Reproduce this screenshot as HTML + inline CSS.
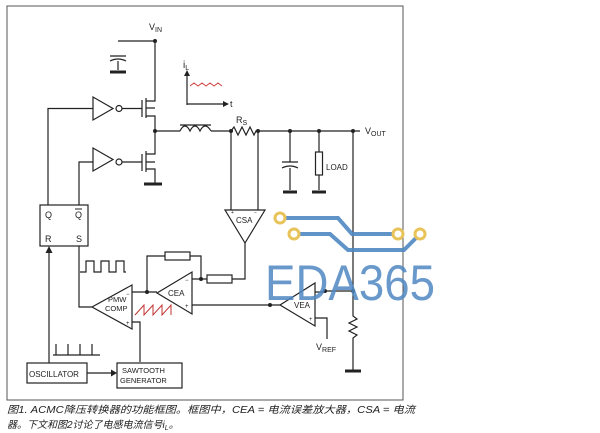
<!DOCTYPE html>
<html><head><meta charset="utf-8"><style>
html,body{margin:0;padding:0;background:#fff;width:600px;height:433px;overflow:hidden}
svg{display:block}
text{font-family:"Liberation Sans",Arial,sans-serif;fill:#222}
</style></head><body>
<svg width="600" height="433" viewBox="0 0 600 433">
<g stroke="#222" stroke-width="1.2" fill="none">
<rect x="7" y="6" width="396" height="394" stroke="#555" stroke-width="1"/>
<path d="M118,41H155V95"/>
<path d="M110,56H126M110,61 Q118,57 126,61M118,61V70"/>
<path d="M110,72H126" stroke-width="3"/>
<path d="M93,97V120L113,108.5Z"/>
<circle cx="119" cy="108.5" r="3"/>
<path d="M122,108.5H142M142,100V117M146,98V118M146,101H155V95M146,108H155M146,116H155V131"/>
<path d="M48,205V108.5H93"/>
<path d="M93,148V171L113,159.5Z"/>
<circle cx="119" cy="162" r="3"/>
<path d="M122,162H142M142,154V171M146,151V172M146,154H155V131M146,162H155M146,169H155V183"/>
<path d="M144,184H162" stroke-width="3"/>
<path d="M79,205V162H93"/>
<path d="M155,131H180M180,131 q5,-10 10,0 q5,-10 10,0 q5,-10 11,0M180,125H211M211,131H233"/>
<path d="M231,131 l3,-4 l4,8 l4,-8 l4,8 l4,-8 l4,8 l2,-4H353M353,131H360"/>
<path d="M290,131V162M282,162H298M282,168 Q290,164 298,168M290,168V190"/>
<path d="M283,192H297" stroke-width="3"/>
<path d="M319,131V152M319,175V190"/>
<rect x="315.5" y="152" width="7" height="23"/>
<path d="M312,192H326" stroke-width="3"/>
<path d="M353,131V316 l4,3 l-8,4 l8,4 l-8,4 l8,4 l-4,3V370"/>
<path d="M345,371H361" stroke-width="3"/>
<path d="M325,291H353"/>
<path d="M225,210H265L245,243Z"/>
<path d="M231,131V210M258,131V210M245,243V279H232M207,279H201"/>
<rect x="207" y="275" width="25" height="8"/>
<path d="M192,272V314L157,293Z"/>
<path d="M147,292V256H165M190,256H201V279H192"/>
<rect x="165" y="252" width="25" height="8"/>
<path d="M192,305H280"/>
<path d="M132,285V329L92,307Z"/>
<path d="M132,292H157M132,322H140V362"/>
<path d="M79,246V307H92"/>
<path d="M315,283V326L280,305Z"/>
<path d="M315,292H325M315,318H327V339"/>
<rect x="40" y="205" width="48" height="41"/>
<path d="M80,272H86V261H94V272H101V261H109V272H116V261H124V272H126"/>
<path d="M53,355H100M56,355V344M68,355V344M80,355V344M92,355V344"/>
<rect x="27" y="363" width="60" height="20"/>
<rect x="117" y="363" width="65" height="25"/>
<path d="M87,373H112M49,363V252"/>
<path d="M187,105V74M187,104H225"/>
</g>
<path d="M117,373l-6,-3.5v7z M49,246l-3.5,7h7z M187,70l-3,6h6z M229,104l-6,-3v6z" fill="#222"/>
<path d="M190,86 l4,-3 l4,3 l4,-3 l4,3 l4,-3 l4,3 l4,-3 l4,3" stroke="#d04040" fill="none"/>
<path d="M135,315 l9,-10 v10 l9,-10 v10 l9,-10 v10 l9,-10 v10" stroke="#c03030" fill="none" stroke-width="1"/>
<g fill="#222">
<circle cx="155" cy="41" r="2"/><circle cx="155" cy="131" r="2"/><circle cx="231" cy="131" r="2"/><circle cx="258" cy="131" r="2"/><circle cx="290" cy="131" r="2"/><circle cx="319" cy="131" r="2"/><circle cx="353" cy="131" r="2"/><circle cx="201" cy="279" r="2"/><circle cx="147" cy="292" r="2"/><circle cx="270" cy="305" r="2"/><circle cx="325" cy="291" r="2"/><circle cx="353" cy="291" r="2"/>
</g>
<g font-size="9">
<text x="149" y="30">V<tspan font-size="7" dy="2">IN</tspan></text>
<text x="183" y="68" font-size="10">i<tspan font-size="7" dy="2">L</tspan></text>
<text x="230" y="107">t</text>
<text x="236" y="123">R<tspan font-size="7" dy="2">S</tspan></text>
<text x="365" y="134">V<tspan font-size="7" dy="2">OUT</tspan></text>
<text x="326" y="170" font-size="8">LOAD</text>
<text x="45" y="218">Q</text><text x="75" y="218">Q</text>
<path d="M75,209h7" stroke="#222"/>
<text x="45" y="242">R</text><text x="76" y="242">S</text>
<text x="236" y="223" font-size="8">CSA</text>
<text x="231" y="214" font-size="5">+</text><text x="254" y="214" font-size="5">−</text>
<text x="168" y="296" font-size="8">CEA</text>
<text x="185" y="282" font-size="6">−</text><text x="185" y="308" font-size="6">+</text>
<text x="108" y="302" font-size="7.5">PMW</text>
<text x="105" y="311" font-size="7.5">COMP</text>
<text x="126" y="296" font-size="6">−</text><text x="126" y="325" font-size="6">+</text>
<text x="294" y="308" font-size="8">VEA</text>
<text x="309" y="321" font-size="6">+</text>
<text x="316" y="350">V<tspan font-size="7" dy="2">REF</tspan></text>
<text x="29" y="377" font-size="8">OSCILLATOR</text>
<text x="122" y="373" font-size="7.5">SAWTOOTH</text>
<text x="120" y="383" font-size="7.5">GENERATOR</text>
</g>
<g font-size="10" font-style="italic" style="font-family:'Liberation Sans','Noto Sans CJK SC',sans-serif">
<text x="7" y="413" textLength="408" lengthAdjust="spacingAndGlyphs">图1. ACMC降压转换器的功能框图。框图中，CEA = 电流误差放大器，CSA = 电流</text>
<text x="7" y="428">器。下文和图2讨论了电感电流信号i<tspan font-size="7" dy="2">L</tspan><tspan dy="-2">。</tspan></text>
</g>
<g stroke="#4f88c2" stroke-width="4" fill="none" opacity="0.9">
<path d="M280,218H338L352,234H398"/>
<path d="M294,234H330L348,250H404L418,236"/>
</g>
<g fill="#fff" stroke="#e8c35a" stroke-width="3">
<circle cx="280" cy="218" r="5"/><circle cx="294" cy="234" r="5"/><circle cx="398" cy="234" r="5"/><circle cx="420" cy="234" r="5"/>
</g>
<text x="265" y="300" font-size="50" textLength="170" lengthAdjust="spacingAndGlyphs" style="fill:#4f88c2;opacity:0.85">EDA365</text>
</svg>
</body></html>
